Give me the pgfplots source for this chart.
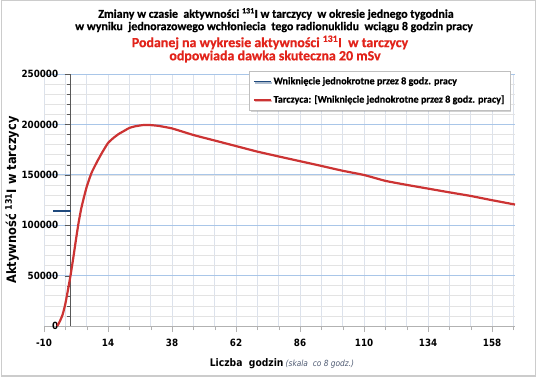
\documentclass[border=0pt]{standalone}
\usepackage{fontspec}
\setmainfont{Carlito}[BoldFeatures={FakeBold=0.6}]
\newfontfamily\tah{DejaVu Sans}[FakeStretch=0.88]
\usepackage{pgfplots}
\pgfplotsset{compat=1.18}
\usetikzlibrary{shadows}
\definecolor{redc}{HTML}{CC3333}
\definecolor{dblue}{HTML}{1F497D}
\definecolor{tred}{HTML}{E2231A}
\definecolor{gmaj}{HTML}{A9C6E8}
\definecolor{gmin}{HTML}{E3E3E3}
\definecolor{gx}{HTML}{DCE2EC}
\definecolor{italc}{HTML}{4F5B73}
\begin{document}
\begin{tikzpicture}[x=1bp,y=1bp]
\useasboundingbox (0,0) rectangle (538,378);
\fill[white] (0,0) rectangle (538,378);
\draw[gray!40, line width=1.2bp] (1.5,2) rectangle (535.5,377.5);
\begin{axis}[
  at={(44bp,52bp)}, anchor=south west, scale only axis,
  width=471bp, height=252bp,
  xmin=-10, xmax=166.6, ymin=0, ymax=250000,
  axis x line=bottom, axis y line=center, axis line style={-},
  hide obscured y ticks=false,
  x axis line style={draw=gray!60},
  y axis line style={draw=gray!70!black, line width=0.8bp},
  xtick={-10,14,...,158},
  xticklabels={-10,14,38,62,86,110,134,158},
  minor xtick={-2,6,22,30,46,54,70,78,94,102,118,126,142,150,166},
  ytick={0,50000,...,250000},
  yticklabels={0,50000,100000,150000,200000,250000},
  minor ytick={10000,20000,...,240000},
  tick align=outside,
  major tick length=6bp, minor tick length=4bp,
  xtick style={draw=gray!60},
  ytick style={draw=gray!70!black},
  grid=both,
  major x grid style={draw=gx, line width=0.6bp},
  minor x grid style={draw=gx, line width=0.6bp},
  major y grid style={draw=gmaj, line width=0.8bp},
  minor y grid style={draw=gmin, line width=0.6bp},
  scaled y ticks=false,
  ticklabel style={font=\tah\bfseries\fontsize{10}{12}\selectfont},
  xticklabel style={yshift=-4bp},
  yticklabel style={xshift=-3bp},
  clip=false,
  legend style={at={(0.9894,1.012)}, anchor=north east, draw=gray!50, fill=white,
    drop shadow={opacity=0.35, shadow xshift=1.5bp, shadow yshift=-1.5bp},
    font=\bfseries\fontsize{10.2}{12}\selectfont, row sep=5.5bp, inner sep=3.5bp,
    inner ysep=4bp},
  legend cell align=left,
]
\addplot[dblue, line width=2.2bp, forget plot] coordinates {(-6.6,114000) (0.3,114000)};
\addplot[redc, line width=2.2bp, line join=round, smooth, tension=0.3, forget plot] coordinates {
(-5,0) (-4,5000) (-3,11500) (-2,22000) (-1,36000) (0,51000) (1,68000) (2,86000)
(3,103000) (4,117000) (5,128000) (6,138000) (7,146000) (8,153000) (10,163500)
(12,173000) (14,181500) (16,186500) (18,190500) (20,193500) (22,196500) (24,198000)
(27,199300) (30,199300) (33,198500) (38,196000) (46,189500) (54,184000) (62,178500)
(70,173000) (78,168200) (86,163500) (94,158800) (102,154000) (110,149800) (118,144000)
(126,140000) (134,136300) (142,132600) (150,129000) (158,124800) (166.6,120500)};
\addlegendimage{draw=dblue, line width=1.6bp}
\addlegendentry{Wniknięcie jednokrotne przez 8 godz. pracy}
\addlegendimage{draw=redc, line width=1.6bp}
\addlegendentry{Tarczyca: [Wniknięcie jednokrotne przez 8 godz. pracy]}
\end{axis}
\node[font=\bfseries\fontsize{12}{14}\selectfont] at (276,364) {Zmiany w czasie\ \ aktywności \textsuperscript{131}I w tarczycy\ \ w okresie jednego tygodnia};
\node[font=\bfseries\fontsize{12}{14}\selectfont] at (274,351) {w wyniku\ \ jednorazowego wchłoniecia\ \ tego radionuklidu\ \ wciągu 8 godzin pracy};
\node[font=\bfseries\fontsize{14}{16}\selectfont, text=tred] at (270,335.5) {Podanej na wykresie aktywności \textsuperscript{131}I\ \ w tarczycy};
\node[font=\bfseries\fontsize{14}{16}\selectfont, text=tred] at (275,321.5) {odpowiada dawka skuteczna 20 mSv};
\node[rotate=90, font=\tah\bfseries\fontsize{13}{15}\selectfont] at (12,178) {Aktywność \textsuperscript{131}I w tarczycy};
\node[anchor=base] at (282,12) {{\tah\bfseries\fontsize{10.5}{12}\selectfont Liczba\ \ godzin}\ {\tah\itshape\fontsize{8.5}{10}\selectfont\color{italc}(skala\ \ co 8 godz.)}};
\end{tikzpicture}
\end{document}
